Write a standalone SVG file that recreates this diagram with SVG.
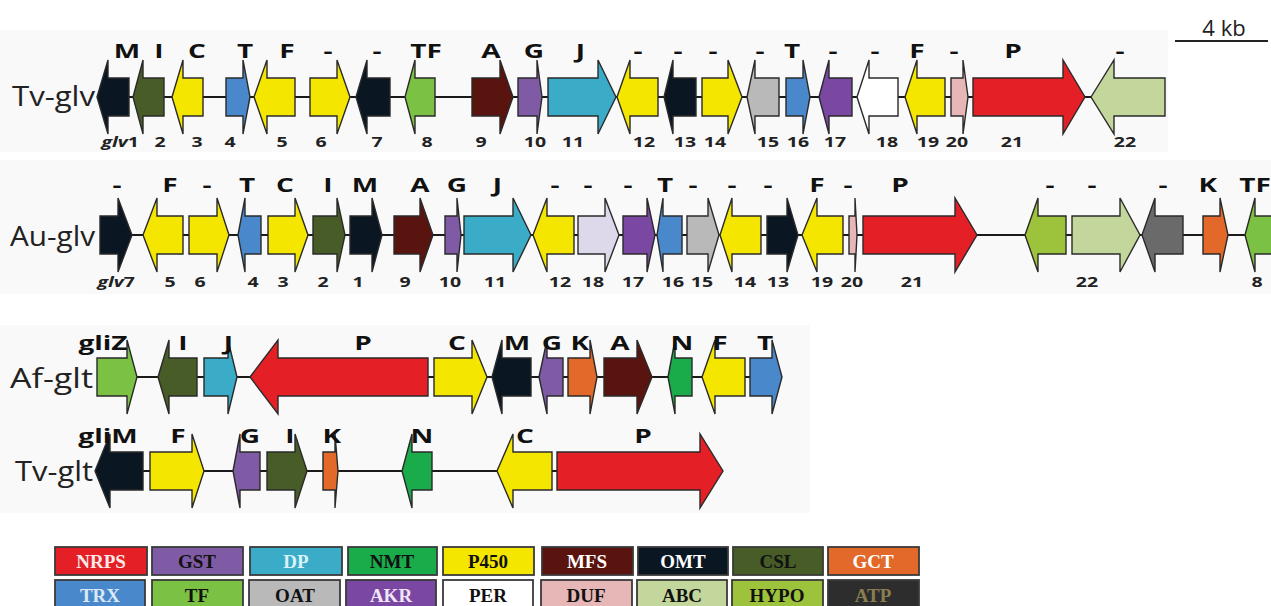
<svg xmlns="http://www.w3.org/2000/svg" width="1271" height="606" viewBox="0 0 1271 606">
<style>
.g polygon{stroke:#2a2a2a;stroke-width:1.4;stroke-linejoin:miter}
.omt{fill:#0b1623}.csl{fill:#475c27}.p450{fill:#f5e600}.trx{fill:#4a88cc}.tf{fill:#7bc143}
.mfs{fill:#5a1410}.gst{fill:#7f5ba6}.dp{fill:#3aacc8}.oat{fill:#b9b9b9}.akr{fill:#7a47a2}
.per{fill:#ffffff}.duf{fill:#e7b6b6}.nrps{fill:#e41f26}.abc{fill:#c3d69c}.hypo{fill:#9dc23b}
.atp{fill:#6a6a6a}.gct{fill:#e2692a}.nmt{fill:#1aab4b}.lav{fill:#ddd9ea}
.bb line{stroke:#1a1a1a;stroke-width:2.2}
.top{font-family:"Open Sans","Liberation Sans",sans-serif;font-weight:700;font-size:20px;fill:#111;text-anchor:middle;transform-box:fill-box;transform-origin:center;transform:scaleX(1.4)}
.num{font-family:"Open Sans","Liberation Sans",sans-serif;font-weight:700;font-size:15px;fill:#222;text-anchor:middle;transform-box:fill-box;transform-origin:center;transform:scaleX(1.3)}
.rl{font-family:"Open Sans","Liberation Sans",sans-serif;font-size:28px;fill:#222}
.lg rect{stroke:#3a3a3a;stroke-width:1.8}
.lg text{font-family:"Liberation Serif","Times New Roman",serif;font-weight:700;font-size:19px;text-anchor:middle}
</style>
<rect width="1271" height="606" fill="#ffffff"/>
<rect x="0" y="30" width="1168" height="122" fill="#f9f9f9"/>
<rect x="0" y="160" width="1271" height="134" fill="#f9f9f9"/>
<rect x="0" y="325" width="810" height="188" fill="#f9f9f9"/>

<!-- scale bar -->
<g id="scale">
<text x="1224" y="36" font-family="'Open Sans','Liberation Sans',sans-serif" font-size="22" fill="#222" text-anchor="middle">4 kb</text>
<line x1="1175" y1="41" x2="1268" y2="41" stroke="#222" stroke-width="2"/>
</g>

<!-- connectors (backbones) -->
<g id="connectors" class="bb">
<line x1="100" y1="97" x2="1160" y2="97"/>
<line x1="102" y1="235" x2="1271" y2="235"/>
<line x1="100" y1="377" x2="780" y2="377"/>
<line x1="98" y1="471" x2="720" y2="471"/>
</g>

<!-- Row 1: Tv-glv -->
<text class="rl" x="12" y="106" textLength="83" lengthAdjust="spacingAndGlyphs">Tv-glv</text>
<g class="g" transform="translate(0,97)">
<g id="tvglv1"><polygon class="omt" points="97,0 108,-37 108,-19 129,-19 129,19 108,19 108,37"/></g>
<g id="tvglv2"><polygon class="csl" points="133,0 143,-37 143,-19 164,-19 164,19 143,19 143,37"/></g>
<g id="tvglv3"><polygon class="p450" points="172,0 183,-37 183,-19 203,-19 203,19 183,19 183,37"/></g>
<g id="tvglv4"><polygon class="trx" points="226,-19 243,-19 243,-37 250,0 243,37 243,19 226,19"/></g>
<g id="tvglv5"><polygon class="p450" points="254,0 267,-37 267,-19 295,-19 295,19 267,19 267,37"/></g>
<g id="tvglv6"><polygon class="p450" points="310,-19 337,-19 337,-37 350,0 337,37 337,19 310,19"/></g>
<g id="tvglv7"><polygon class="omt" points="356,0 367,-37 367,-19 390,-19 390,19 367,19 367,37"/></g>
<g id="tvglv8"><polygon class="tf" points="405,0 415,-37 415,-19 435,-19 435,19 415,19 415,37"/></g>
<g id="tvglv9"><polygon class="mfs" points="472,-19 500,-19 500,-37 513,0 500,37 500,19 472,19"/></g>
<g id="tvglv10"><polygon class="gst" points="518,-19 537,-19 537,-37 542,0 537,37 537,19 518,19"/></g>
<g id="tvglv11"><polygon class="dp" points="548,-19 598,-19 598,-37 616,0 598,37 598,19 548,19"/></g>
<g id="tvglv12"><polygon class="p450" points="617,0 630,-37 630,-19 658,-19 658,19 630,19 630,37"/></g>
<g id="tvglv13"><polygon class="omt" points="664,0 673,-37 673,-19 696,-19 696,19 673,19 673,37"/></g>
<g id="tvglv14"><polygon class="p450" points="702,-19 728,-19 728,-37 742,0 728,37 728,19 702,19"/></g>
<g id="tvglv15"><polygon class="oat" points="747,0 755,-37 755,-19 779,-19 779,19 755,19 755,37"/></g>
<g id="tvglv16"><polygon class="trx" points="786,-19 803,-19 803,-37 810,0 803,37 803,19 786,19"/></g>
<g id="tvglv17"><polygon class="akr" points="819,0 829,-37 829,-19 852,-19 852,19 829,19 829,37"/></g>
<g id="tvglv18"><polygon class="per" points="857,0 869,-37 869,-19 898,-19 898,19 869,19 869,37"/></g>
<g id="tvglv19"><polygon class="p450" points="905,0 917,-37 917,-19 945,-19 945,19 917,19 917,37"/></g>
<g id="tvglv20"><polygon class="duf" points="951,-19 963,-19 963,-37 968,0 963,37 963,19 951,19"/></g>
<g id="tvglv21"><polygon class="nrps" points="973,-19 1063,-19 1063,-37 1085,0 1063,37 1063,19 973,19"/></g>
<g id="tvglv22"><polygon class="abc" points="1091,0 1114,-37 1114,-19 1165,-19 1165,19 1114,19 1114,37"/></g>
</g>
<g id="tvglv-labels">
<text class="top" x="127" y="58">M</text><text class="top" x="159" y="58">I</text><text class="top" x="197" y="58">C</text>
<text class="top" x="245" y="58">T</text><text class="top" x="287" y="58">F</text><text class="top" x="328" y="58">-</text>
<text class="top" x="377" y="58">-</text><text class="top" x="426" y="58">TF</text><text class="top" x="491" y="58">A</text>
<text class="top" x="534" y="58">G</text><text class="top" x="580" y="58">J</text><text class="top" x="638" y="58">-</text>
<text class="top" x="678" y="58">-</text><text class="top" x="713" y="58">-</text><text class="top" x="760" y="58">-</text>
<text class="top" x="792" y="58">T</text><text class="top" x="833" y="58">-</text><text class="top" x="875" y="58">-</text>
<text class="top" x="917" y="58">F</text><text class="top" x="954" y="58">-</text><text class="top" x="1013" y="58">P</text>
<text class="top" x="1120" y="58">-</text>
<text class="num" x="120" y="147"><tspan font-style="italic">glv</tspan>1</text>
<text class="num" x="160" y="147">2</text><text class="num" x="197" y="147">3</text><text class="num" x="230" y="147">4</text>
<text class="num" x="282" y="147">5</text><text class="num" x="321" y="147">6</text><text class="num" x="377" y="147">7</text>
<text class="num" x="427" y="147">8</text><text class="num" x="481" y="147">9</text><text class="num" x="535" y="147">10</text>
<text class="num" x="573" y="147">11</text><text class="num" x="644" y="147">12</text><text class="num" x="685" y="147">13</text>
<text class="num" x="715" y="147">14</text><text class="num" x="768" y="147">15</text><text class="num" x="798" y="147">16</text>
<text class="num" x="835" y="147">17</text><text class="num" x="887" y="147">18</text><text class="num" x="928" y="147">19</text>
<text class="num" x="957" y="147">20</text><text class="num" x="1012" y="147">21</text><text class="num" x="1125" y="147">22</text>
</g>

<!-- Row 2: Au-glv -->
<text class="rl" x="10" y="246" textLength="85" lengthAdjust="spacingAndGlyphs">Au-glv</text>
<g class="g" transform="translate(0,235)">
<g id="auglv7"><polygon class="omt" points="100,-19 118,-19 118,-37 132,0 118,37 118,19 100,19"/></g>
<g id="auglv5"><polygon class="p450" points="143,0 157,-37 157,-19 183,-19 183,19 157,19 157,37"/></g>
<g id="auglv6"><polygon class="p450" points="189,-19 217,-19 217,-37 229,0 217,37 217,19 189,19"/></g>
<g id="auglv4"><polygon class="trx" points="238,0 245,-37 245,-19 261,-19 261,19 245,19 245,37"/></g>
<g id="auglv3"><polygon class="p450" points="268,-19 295,-19 295,-37 308,0 295,37 295,19 268,19"/></g>
<g id="auglv2"><polygon class="csl" points="313,-19 337,-19 337,-37 345,0 337,37 337,19 313,19"/></g>
<g id="auglv1"><polygon class="omt" points="350,-19 372,-19 372,-37 382,0 372,37 372,19 350,19"/></g>
<g id="auglv9"><polygon class="mfs" points="394,-19 420,-19 420,-37 433,0 420,37 420,19 394,19"/></g>
<g id="auglv10"><polygon class="gst" points="445,-19 457,-19 457,-37 461,0 457,37 457,19 445,19"/></g>
<g id="auglv11"><polygon class="dp" points="464,-19 513,-19 513,-37 531,0 513,37 513,19 464,19"/></g>
<g id="auglv12"><polygon class="p450" points="533,0 547,-37 547,-19 574,-19 574,19 547,19 547,37"/></g>
<g id="auglv18"><polygon class="lav" points="578,-19 605,-19 605,-37 619,0 605,37 605,19 578,19"/></g>
<g id="auglv17"><polygon class="akr" points="623,-19 647,-19 647,-37 655,0 647,37 647,19 623,19"/></g>
<g id="auglv16"><polygon class="trx" points="657,0 663,-37 663,-19 682,-19 682,19 663,19 663,37"/></g>
<g id="auglv15"><polygon class="oat" points="687,-19 708,-19 708,-37 719,0 708,37 708,19 687,19"/></g>
<g id="auglv14"><polygon class="p450" points="720,0 732,-37 732,-19 761,-19 761,19 732,19 732,37"/></g>
<g id="auglv13"><polygon class="omt" points="767,-19 787,-19 787,-37 798,0 787,37 787,19 767,19"/></g>
<g id="auglv19"><polygon class="p450" points="802,0 817,-37 817,-19 843,-19 843,19 817,19 817,37"/></g>
<g id="auglv20"><polygon class="duf" points="849,-19 855,-19 855,-37 857,0 855,37 855,19 849,19"/></g>
<g id="auglv21"><polygon class="nrps" points="863,-19 955,-19 955,-37 977,0 955,37 955,19 863,19"/></g>
<g id="auhypo"><polygon class="hypo" points="1025,0 1038,-37 1038,-19 1066,-19 1066,19 1038,19 1038,37"/></g>
<g id="auglv22"><polygon class="abc" points="1072,-19 1120,-19 1120,-37 1140,0 1120,37 1120,19 1072,19"/></g>
<g id="auatp"><polygon class="atp" points="1142,0 1155,-37 1155,-19 1183,-19 1183,19 1155,19 1155,37"/></g>
<g id="auk"><polygon class="gct" points="1203,-19 1220,-19 1220,-37 1228,0 1220,37 1220,19 1203,19"/></g>
<g id="auglv8"><polygon class="tf" points="1245,0 1255,-37 1255,-19 1290,-19 1290,19 1255,19 1255,37"/></g>
</g>
<g id="auglv-labels">
<text class="top" x="117" y="192">-</text><text class="top" x="170" y="192">F</text><text class="top" x="207" y="192">-</text>
<text class="top" x="247" y="192">T</text><text class="top" x="285" y="192">C</text><text class="top" x="328" y="192">I</text>
<text class="top" x="365" y="192">M</text><text class="top" x="420" y="192">A</text><text class="top" x="457" y="192">G</text>
<text class="top" x="497" y="192">J</text><text class="top" x="555" y="192">-</text><text class="top" x="588" y="192">-</text>
<text class="top" x="628" y="192">-</text><text class="top" x="665" y="192">T</text><text class="top" x="693" y="192">-</text>
<text class="top" x="732" y="192">-</text><text class="top" x="768" y="192">-</text><text class="top" x="817" y="192">F</text>
<text class="top" x="848" y="192">-</text><text class="top" x="900" y="192">P</text><text class="top" x="1050" y="192">-</text>
<text class="top" x="1092" y="192">-</text><text class="top" x="1163" y="192">-</text><text class="top" x="1208" y="192">K</text>
<text class="top" x="1255" y="192">TF</text>
<text class="num" x="116" y="287"><tspan font-style="italic">glv</tspan>7</text>
<text class="num" x="170" y="287">5</text><text class="num" x="200" y="287">6</text><text class="num" x="253" y="287">4</text>
<text class="num" x="283" y="287">3</text><text class="num" x="323" y="287">2</text><text class="num" x="358" y="287">1</text>
<text class="num" x="405" y="287">9</text><text class="num" x="450" y="287">10</text><text class="num" x="495" y="287">11</text>
<text class="num" x="560" y="287">12</text><text class="num" x="593" y="287">18</text><text class="num" x="633" y="287">17</text>
<text class="num" x="673" y="287">16</text><text class="num" x="702" y="287">15</text><text class="num" x="745" y="287">14</text>
<text class="num" x="778" y="287">13</text><text class="num" x="822" y="287">19</text><text class="num" x="852" y="287">20</text>
<text class="num" x="912" y="287">21</text><text class="num" x="1087" y="287">22</text><text class="num" x="1257" y="287">8</text>
</g>

<!-- Row 3: Af-glt -->
<text class="rl" x="10" y="388" textLength="83" lengthAdjust="spacingAndGlyphs">Af-glt</text>
<g class="g" transform="translate(0,377)">
<g id="afgliZ"><polygon class="tf" points="97,-19 127,-19 127,-37 137,0 127,37 127,19 97,19"/></g>
<g id="afgliI"><polygon class="csl" points="158,0 169,-37 169,-19 197,-19 197,19 169,19 169,37"/></g>
<g id="afgliJ"><polygon class="dp" points="204,-19 228,-19 228,-37 237,0 228,37 228,19 204,19"/></g>
<g id="afgliP"><polygon class="nrps" points="250,0 278,-37 278,-19 428,-19 428,19 278,19 278,37"/></g>
<g id="afgliC"><polygon class="p450" points="434,-19 472,-19 472,-37 487,0 472,37 472,19 434,19"/></g>
<g id="afgliM"><polygon class="omt" points="492,0 502,-37 502,-19 531,-19 531,19 502,19 502,37"/></g>
<g id="afgliG"><polygon class="gst" points="539,0 547,-37 547,-19 563,-19 563,19 547,19 547,37"/></g>
<g id="afgliK"><polygon class="gct" points="568,-19 590,-19 590,-37 597,0 590,37 590,19 568,19"/></g>
<g id="afgliA"><polygon class="mfs" points="604,-19 637,-19 637,-37 652,0 637,37 637,19 604,19"/></g>
<g id="afgliN"><polygon class="nmt" points="668,0 675,-37 675,-19 692,-19 692,19 675,19 675,37"/></g>
<g id="afgliF"><polygon class="p450" points="702,0 715,-37 715,-19 745,-19 745,19 715,19 715,37"/></g>
<g id="afgliT"><polygon class="trx" points="750,-19 772,-19 772,-37 782,0 772,37 772,19 750,19"/></g>
</g>
<g id="afglt-labels">
<text class="top" x="103" y="350">gliZ</text><text class="top" x="183" y="350">I</text><text class="top" x="228" y="350">J</text>
<text class="top" x="363" y="350">P</text><text class="top" x="457" y="350">C</text><text class="top" x="517" y="350">M</text>
<text class="top" x="552" y="350">G</text><text class="top" x="580" y="350">K</text><text class="top" x="620" y="350">A</text>
<text class="top" x="682" y="350">N</text><text class="top" x="720" y="350">F</text><text class="top" x="765" y="350">T</text>
</g>

<!-- Row 4: Tv-glt -->
<text class="rl" x="15" y="481" textLength="78" lengthAdjust="spacingAndGlyphs">Tv-glt</text>
<g class="g" transform="translate(0,471)">
<g id="tvgliM"><polygon class="omt" points="95,0 110,-37 110,-19 143,-19 143,19 110,19 110,37"/></g>
<g id="tvgliF"><polygon class="p450" points="150,-19 192,-19 192,-37 204,0 192,37 192,19 150,19"/></g>
<g id="tvgliG"><polygon class="gst" points="233,0 240,-37 240,-19 260,-19 260,19 240,19 240,37"/></g>
<g id="tvgliI"><polygon class="csl" points="267,-19 295,-19 295,-37 307,0 295,37 295,19 267,19"/></g>
<g id="tvgliK"><polygon class="gct" points="323,-19 335,-19 335,-37 338,0 335,37 335,19 323,19"/></g>
<g id="tvgliN"><polygon class="nmt" points="402,0 412,-37 412,-19 432,-19 432,19 412,19 412,37"/></g>
<g id="tvgliC"><polygon class="p450" points="497,0 513,-37 513,-19 552,-19 552,19 513,19 513,37"/></g>
<g id="tvgliP"><polygon class="nrps" points="557,-19 700,-19 700,-37 723,0 700,37 700,19 557,19"/></g>
</g>
<g id="tvglt-labels">
<text class="top" x="108" y="443">gliM</text><text class="top" x="178" y="443">F</text><text class="top" x="250" y="443">G</text>
<text class="top" x="290" y="443">I</text><text class="top" x="332" y="443">K</text><text class="top" x="422" y="443">N</text>
<text class="top" x="525" y="443">C</text><text class="top" x="643" y="443">P</text>
</g>

<!-- Legend -->
<g id="legend" class="lg">
<rect class="nrps" x="55" y="547" width="92" height="28"/><text x="101" y="568" fill="#fbe9ea">NRPS</text>
<rect class="gst" x="152" y="547" width="91" height="28"/><text x="197" y="568" fill="#111">GST</text>
<rect class="dp" x="250" y="547" width="92" height="28"/><text x="296" y="568" fill="#d9f2f8">DP</text>
<rect class="nmt" x="348" y="547" width="89" height="28"/><text x="392" y="568" fill="#111">NMT</text>
<rect class="p450" x="443" y="547" width="91" height="28"/><text x="488" y="568" fill="#111">P450</text>
<rect class="mfs" x="542" y="547" width="91" height="28"/><text x="587" y="568" fill="#fff">MFS</text>
<rect class="omt" x="638" y="547" width="90" height="28"/><text x="683" y="568" fill="#fff">OMT</text>
<rect class="csl" x="733" y="547" width="90" height="28"/><text x="778" y="568" fill="#111">CSL</text>
<rect class="gct" x="828" y="547" width="91" height="28"/><text x="873" y="568" fill="#fff">GCT</text>
<rect class="trx" x="55" y="580" width="90" height="30"/><text x="100" y="602" fill="#dbe8f6">TRX</text>
<rect class="tf" x="152" y="580" width="91" height="30"/><text x="197" y="602" fill="#111">TF</text>
<rect class="oat" x="249" y="580" width="91" height="30"/><text x="295" y="602" fill="#111">OAT</text>
<rect class="akr" x="346" y="580" width="90" height="30"/><text x="391" y="602" fill="#efe6f6">AKR</text>
<rect class="per" x="443" y="580" width="90" height="30"/><text x="488" y="602" fill="#111">PER</text>
<rect class="duf" x="541" y="580" width="91" height="30"/><text x="586" y="602" fill="#111">DUF</text>
<rect class="abc" x="637" y="580" width="90" height="30"/><text x="682" y="602" fill="#111">ABC</text>
<rect class="hypo" x="732" y="580" width="91" height="30"/><text x="777" y="602" fill="#111">HYPO</text>
<rect x="828" y="580" width="91" height="30" fill="#2d2d2d"/><text x="873" y="602" fill="#8a7e50">ATP</text>
</g>
</svg>
